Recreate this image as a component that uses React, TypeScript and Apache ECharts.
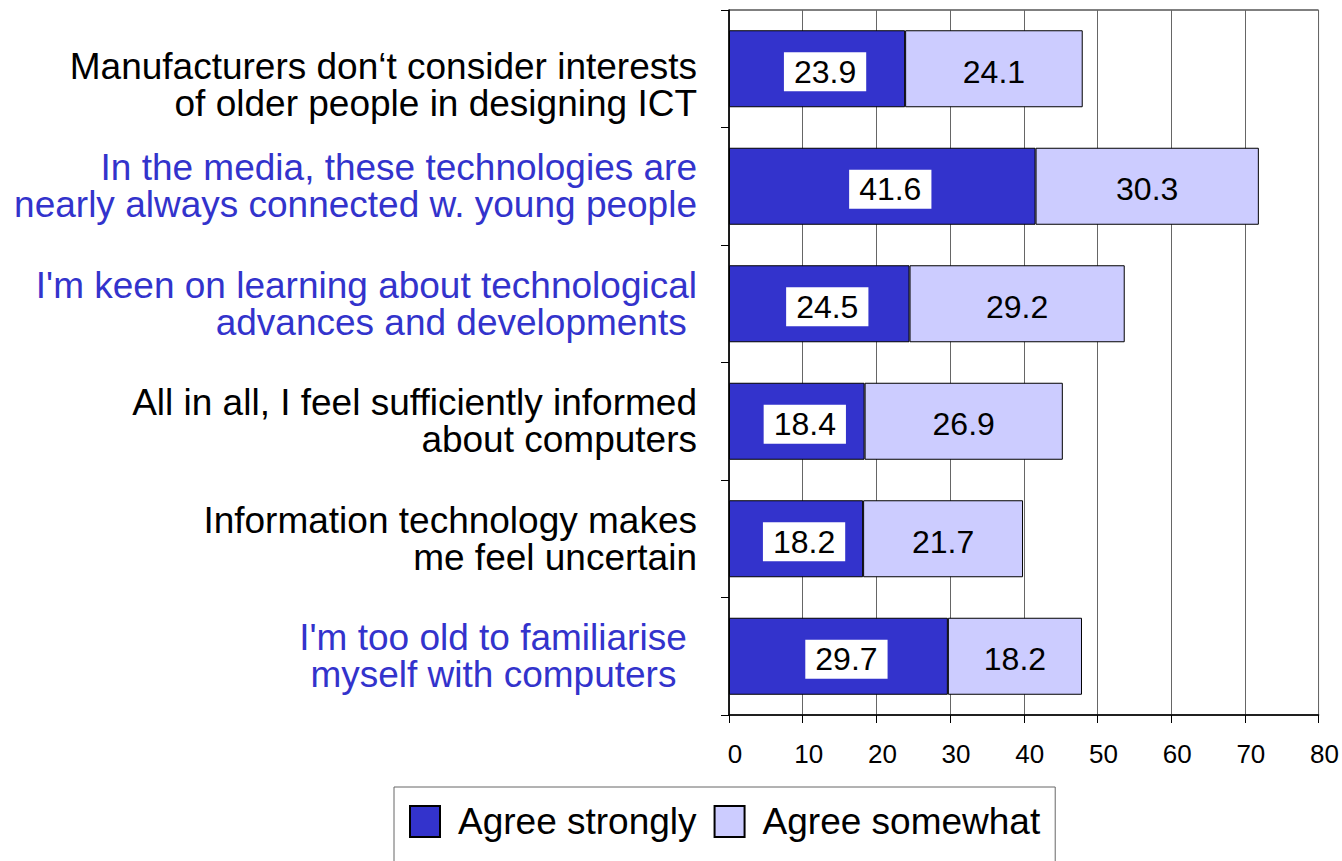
import React, { useEffect, useRef } from "react";
import * as echarts from "echarts";

const categories: string[] = [
  "Manufacturers don‘t consider interests\nof older people in designing ICT",
  "In the media, these technologies are\nnearly always connected w. young people",
  "I'm keen on learning about technological\nadvances and developments ",
  "All in all, I feel sufficiently informed\nabout computers",
  "Information technology makes\nme feel uncertain",
  "I'm too old to familiarise \nmyself with computers  ",
];
const labelStyles: string[] = ["k0", "b", "b", "k", "k", "b"];
const seriesNames: string[] = ["Agree strongly", "Agree somewhat"];
const agreeStrongly: number[] = [23.9, 41.6, 24.5, 18.4, 18.2, 29.7];
const agreeSomewhat: number[] = [24.1, 30.3, 29.2, 26.9, 21.7, 18.2];
const xTicks = { min: 0, max: 80, interval: 10 };

const FONT = "'Liberation Sans', Arial, sans-serif";

export default function App() {
  const ref = useRef<HTMLDivElement>(null);
  useEffect(() => {
    if (!ref.current) return;
    const chart = echarts.init(ref.current, undefined, { renderer: "svg" });
    const labelBase = { fontSize: 37, lineHeight: 37, fontFamily: FONT };
    chart.setOption({
      animation: false,
      textStyle: { fontFamily: FONT },
      grid: {
        left: 729,
        right: 21,
        top: 10,
        bottom: 146,
        show: true,
        borderColor: "#000",
        borderWidth: 1,
        backgroundColor: "transparent",
      },
      legend: {
        left: 394,
        top: 787,
        orient: "horizontal",
        itemWidth: 30,
        itemHeight: 31,
        itemGap: 17,
        borderColor: "#666",
        borderWidth: 1,
        padding: [16, 15, 40, 15],
        icon: "rect",
        data: seriesNames,
        textStyle: {
          fontSize: 37,
          color: "#000",
          fontFamily: FONT,
          padding: [4, 0, 0, 13],
        },
      },
      xAxis: {
        type: "value",
        min: xTicks.min,
        max: xTicks.max,
        interval: xTicks.interval,
        axisLine: { show: true, lineStyle: { color: "#000", width: 1.5 } },
        axisTick: { show: true, length: 8, lineStyle: { color: "#000" } },
        splitLine: { show: true, lineStyle: { color: "#666", width: 1 } },
        axisLabel: {
          fontSize: 26,
          color: "#000",
          margin: 26,
          fontFamily: FONT,
          padding: [0, 0, 0, 12],
        },
      },
      yAxis: {
        type: "category",
        inverse: true,
        data: categories,
        axisLine: { show: true, lineStyle: { color: "#000", width: 1.5 } },
        axisTick: { show: true, length: 8, lineStyle: { color: "#000" } },
        axisLabel: {
          margin: 32,
          align: "right",
          formatter: (value: string, idx: number) => {
            const s = labelStyles[idx] || "k";
            const style = s === "k0" ? "k" : s;
            const lines = value.split("\n").map((line) => `{${style}|${line}}`);
            if (s === "k0") lines.unshift("{sp| }");
            return lines.join("\n");
          },
          rich: {
            k: { ...labelBase, color: "#000" },
            b: { ...labelBase, color: "#3333cc" },
            sp: { fontSize: 2, lineHeight: 32 },
          },
        },
      },
      series: [
        {
          name: seriesNames[0],
          type: "bar",
          stack: "total",
          barWidth: 77,
          data: agreeStrongly,
          itemStyle: { color: "#3333cc", borderColor: "#000", borderWidth: 1 },
          label: {
            show: true,
            position: "inside",
            offset: [8, 3],
            fontSize: 32,
            lineHeight: 33,
            color: "#000",
            fontFamily: FONT,
            backgroundColor: "#fff",
            padding: [3, 10, 3, 10],
            formatter: (p: any) => p.value.toFixed(1),
          },
        },
        {
          name: seriesNames[1],
          type: "bar",
          stack: "total",
          barWidth: 77,
          data: agreeSomewhat,
          itemStyle: { color: "#ccccff", borderColor: "#000", borderWidth: 1 },
          label: {
            show: true,
            position: "inside",
            offset: [0, 3],
            fontSize: 32,
            color: "#000",
            fontFamily: FONT,
            formatter: (p: any) => p.value.toFixed(1),
          },
        },
      ],
    });
    return () => chart.dispose();
  }, []);
  return (
    <div
      ref={ref}
      style={{ position: "absolute", left: 0, top: 0, width: 1342, height: 861 }}
    />
  );
}
